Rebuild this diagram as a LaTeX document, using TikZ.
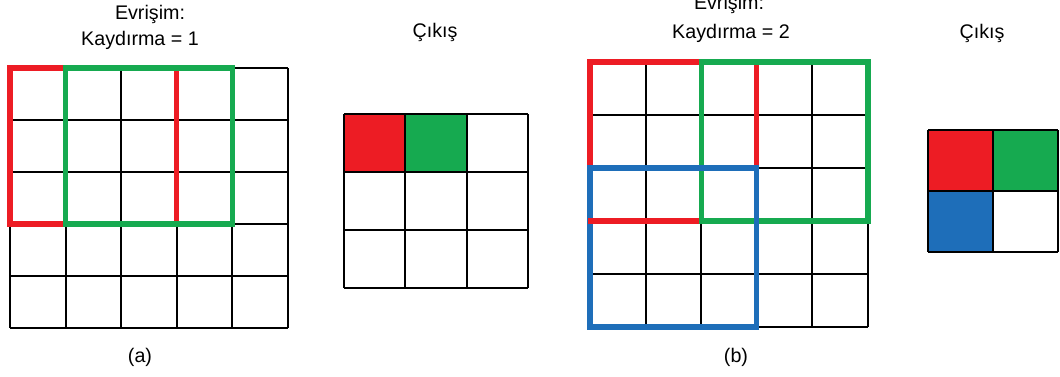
\documentclass[tikz,border=0pt]{standalone}
\usepackage{fontspec}
\setmainfont{Liberation Sans}
\definecolor{rouge}{RGB}{237,28,36}
\definecolor{vert}{RGB}{22,170,80}
\definecolor{bleu}{RGB}{30,110,185}
\begin{document}
\begin{tikzpicture}[x=0.025cm,y=-0.025cm]
		% Styles (MODIFIABLES)
		\tikzstyle{grille}=[black,line width=1.4pt]
		\tikzstyle{cadre}=[line width=3.6pt]
		\tikzstyle{titre}=[font=\fontsize{14}{16}\selectfont,inner sep=0pt]
		\useasboundingbox (0,0) rectangle (1060,376);
		% Dimensions (MODIFIABLES)
		\def\AX{10}\def\AY{68}\def\AW{55.6}\def\AH{52}
		\def\CX{344}\def\CY{114}\def\CW{61.3}\def\CH{58}
		\def\BX{590}\def\BY{62}\def\BW{55.6}\def\BH{53}
		\def\DX{928}\def\DY{130}\def\DW{65}\def\DH{61}
		% Textes
		\node[titre] (evrA) at (150,14) {Evrişim:};
		\node[titre] (kayA) at (140,40) {Kaydırma = 1};
		\node[titre] (cikA) at (435,32) {Çıkış};
		\node[titre] (legA) at (140,357) {(a)};
		\node[titre] (evrB) at (729,4) {Evrişim:};
		\node[titre] (kayB) at (731,33) {Kaydırma =\ 2};
		\node[titre] (cikB) at (982,33) {Çıkış};
		\node[titre] (legB) at (736,357) {(b)};
		% Grille (a) 5x5
		\foreach \i in {0,...,5} {
			\draw[grille] ({\AX+\i*\AW},\AY) -- ({\AX+\i*\AW},{\AY+5*\AH});
			\draw[grille] (\AX,{\AY+\i*\AH}) -- ({\AX+5*\AW},{\AY+\i*\AH});
		}
		\draw[cadre,rouge] (\AX,\AY) rectangle ++({3*\AW},{3*\AH});
		\draw[cadre,vert] ({\AX+\AW},\AY) rectangle ++({3*\AW},{3*\AH});
		% Sortie (a) 3x3
		\fill[rouge] (\CX,\CY) rectangle ++(\CW,\CH);
		\fill[vert] ({\CX+\CW},\CY) rectangle ++(\CW,\CH);
		\foreach \i in {0,...,3} {
			\draw[grille] ({\CX+\i*\CW},\CY) -- ({\CX+\i*\CW},{\CY+3*\CH});
			\draw[grille] (\CX,{\CY+\i*\CH}) -- ({\CX+3*\CW},{\CY+\i*\CH});
		}
		% Grille (b) 5x5
		\foreach \i in {0,...,5} {
			\draw[grille] ({\BX+\i*\BW},\BY) -- ({\BX+\i*\BW},{\BY+5*\BH});
			\draw[grille] (\BX,{\BY+\i*\BH}) -- ({\BX+5*\BW},{\BY+\i*\BH});
		}
		\draw[cadre,rouge] (\BX,\BY) rectangle ++({3*\BW},{3*\BH});
		\draw[cadre,vert] ({\BX+2*\BW},\BY) rectangle ++({3*\BW},{3*\BH});
		\draw[cadre,bleu] (\BX,{\BY+2*\BH}) rectangle ++({3*\BW},{3*\BH});
		\draw[cadre,rouge] ({\BX-2.5},{\BY+3*\BH}) -- ({\BX+2*\BW-2.5},{\BY+3*\BH});
		% Sortie (b) 2x2
		\fill[rouge] (\DX,\DY) rectangle ++(\DW,\DH);
		\fill[vert] ({\DX+\DW},\DY) rectangle ++(\DW,\DH);
		\fill[bleu] (\DX,{\DY+\DH}) rectangle ++(\DW,\DH);
		\foreach \i in {0,...,2} {
			\draw[grille] ({\DX+\i*\DW},\DY) -- ({\DX+\i*\DW},{\DY+2*\DH});
			\draw[grille] (\DX,{\DY+\i*\DH}) -- ({\DX+2*\DW},{\DY+\i*\DH});
		}
	\end{tikzpicture}
\end{document}
